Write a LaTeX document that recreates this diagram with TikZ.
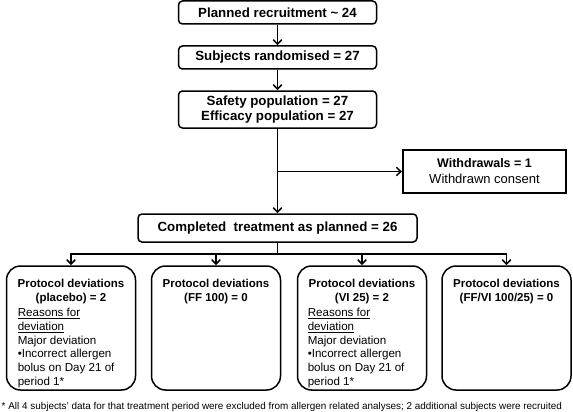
\documentclass[tikz,border=0pt]{standalone}
\usepackage{fontspec}
\setmainfont{Liberation Sans}
\usetikzlibrary{arrows.meta}
\begin{document}
\begin{tikzpicture}[x=1pt,y=-1pt,
  line width=1.5pt,
  arr/.style={-{Straight Barb[length=4.5pt,width=8.5pt]}},
  topbox/.style={draw, rounded corners=4pt, minimum width=198pt, inner sep=0pt,
    font=\fontsize{13.3}{14.7}\selectfont\bfseries, align=center},
  wdbox/.style={draw, line width=2.2pt, minimum width=163pt, minimum height=43pt,
    inner sep=0pt, align=center, font=\fontsize{13}{16}\selectfont},
  devbox/.style={draw, rounded corners=14pt, minimum width=129pt, minimum height=124pt, inner sep=0pt},
  devtitle/.style={anchor=north, inner sep=0pt, font=\fontsize{11.5}{13.7}\selectfont\bfseries, align=center},
  devtext/.style={anchor=north west, inner sep=0pt, font=\fontsize{11.6}{13.7}\selectfont, align=left},
  foot/.style={anchor=base west, inner sep=0pt, font=\fontsize{9.9}{11}\selectfont},
]
\useasboundingbox (0,0) rectangle (573,412);

\node[topbox, minimum height=23pt] (plan) at (277.5,12.5) {Planned recruitment \textasciitilde{} 24};
\node[topbox, minimum height=23pt] (rand) at (277.5,57.5) {Subjects randomised = 27};
\node[topbox, minimum height=37pt] (pop) at (277.5,109.5) {Safety population = 27\\Efficacy population = 27};
\node[wdbox] (wd) at (484.5,171.5) {{\fontsize{12.5}{16}\selectfont\bfseries Withdrawals = 1}\\Withdrawn consent};
\node[topbox, minimum width=279pt, minimum height=28pt] (comp) at (277.5,228) {Completed\ \ treatment as planned = 26};

\node[devbox] (d1) at (71,328) {};
\node[devbox] (d2) at (216,328) {};
\node[devbox] (d3) at (362,328) {};
\node[devbox] (d4) at (506.5,328) {};

\node[devtitle] (t1) at (71,278.5) {Protocol deviations\\(placebo) = 2};
\node[devtitle] (t2) at (216,278.5) {Protocol deviations\\(FF 100) = 0};
\node[devtitle] (t3) at (362,278.5) {Protocol deviations\\(VI 25) = 2};
\node[devtitle] (t4) at (506.5,278.5) {Protocol deviations\\(FF/VI 100/25) = 0};

\node[devtext] (x1) at (17,307.5) {\underline{Reasons for}\\\underline{deviation}\\Major deviation\\\textbullet Incorrect allergen\\bolus on Day 21 of\\period 1*};
\node[devtext] (x3) at (307,307.5) {\underline{Reasons for}\\\underline{deviation}\\Major deviation\\\textbullet Incorrect allergen\\bolus on Day 21 of\\period 1*};

\draw[arr] (plan) -- (rand);
\draw[arr] (rand) -- (pop);
\draw[arr] (pop) -- (comp);
\draw[arr] (pop.south |- wd.west) -- (wd.west);

\coordinate (bar) at (277.5,254);
\draw (comp.south) -- (bar);
\draw[arr] (bar) -| (d1.north);
\draw[arr] (bar) -| (d4.north);
\draw[arr] (d2.north |- bar) -- (d2.north);
\draw[arr] (d3.north |- bar) -- (d3.north);

\node[foot] (fn) at (1,409) {* All 4 subjects' data for that treatment period were excluded from allergen related analyses; 2 additional subjects were recruited};
\end{tikzpicture}
\end{document}
